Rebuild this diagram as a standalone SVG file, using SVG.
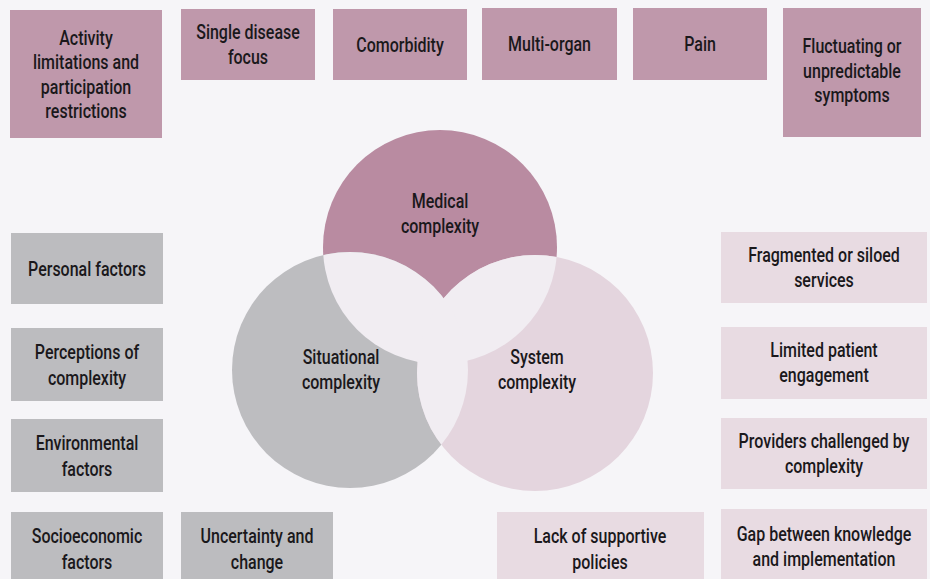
<svg xmlns="http://www.w3.org/2000/svg" width="930" height="579" viewBox="0 0 930 579">
<style>
.t{font-family:Roboto,"Liberation Sans",sans-serif;font-size:20.5px;font-weight:500;fill:#1a181b;text-anchor:middle}
.mauve{fill:#bf98ab}
.gray{fill:#bcbcbf}
.pink{fill:#e8dbe2}
.ov{fill:#f1edf2}
</style>
<defs>
<circle id="cM" cx="440" cy="247" r="117"/>
<circle id="cS" cx="350" cy="370" r="118"/>
<circle id="cY" cx="535" cy="373" r="118"/>
<clipPath id="clipM"><use href="#cM"/></clipPath>
<clipPath id="clipS"><use href="#cS"/></clipPath>
</defs>
<rect width="930" height="579" fill="#f6f5f8"/>

<g id="venn">
<use href="#cM" fill="#b98ba1"/>
<use href="#cS" fill="#bdbdc0"/>
<use href="#cY" fill="#e4d5de"/>
<g clip-path="url(#clipM)">
<use href="#cS" class="ov"/>
<use href="#cY" class="ov"/>
</g>
<g clip-path="url(#clipS)">
<use href="#cY" class="ov"/>
</g>
</g>
<g id="medical"><g transform="translate(440 0) scale(0.78 1)"><text class="t" x="0" y="208">Medical</text><text class="t" x="0" y="233">complexity</text></g></g>
<g id="situational"><g transform="translate(341 0) scale(0.78 1)"><text class="t" x="0" y="364">Situational</text><text class="t" x="0" y="389">complexity</text></g></g>
<g id="system"><g transform="translate(537 0) scale(0.78 1)"><text class="t" x="0" y="364">System</text><text class="t" x="0" y="389">complexity</text></g></g>

<g id="activity"><rect class="mauve" x="10" y="10" width="152" height="128"/>
<g transform="translate(86 0) scale(0.78 1)"><text class="t" x="0" y="45">Activity</text><text class="t" x="0" y="69.5">limitations and</text><text class="t" x="0" y="94">participation</text><text class="t" x="0" y="118.5">restrictions</text></g></g>
<g id="single"><rect class="mauve" x="181" y="9" width="134" height="71"/>
<g transform="translate(248 0) scale(0.78 1)"><text class="t" x="0" y="39">Single disease</text><text class="t" x="0" y="64">focus</text></g></g>
<g id="comorbidity"><rect class="mauve" x="333" y="9" width="134" height="71"/>
<g transform="translate(400 0) scale(0.78 1)"><text class="t" x="0" y="52">Comorbidity</text></g></g>
<g id="multiorgan"><rect class="mauve" x="482" y="8" width="135" height="72"/>
<g transform="translate(549.5 0) scale(0.78 1)"><text class="t" x="0" y="51">Multi-organ</text></g></g>
<g id="pain"><rect class="mauve" x="633" y="8" width="134" height="72"/>
<g transform="translate(700 0) scale(0.78 1)"><text class="t" x="0" y="51">Pain</text></g></g>
<g id="fluctuating"><rect class="mauve" x="783" y="8" width="138" height="129"/>
<g transform="translate(852 0) scale(0.78 1)"><text class="t" x="0" y="53">Fluctuating or</text><text class="t" x="0" y="78">unpredictable</text><text class="t" x="0" y="102">symptoms</text></g></g>

<g id="personal"><rect class="gray" x="11" y="233" width="152" height="71"/>
<g transform="translate(87 0) scale(0.78 1)"><text class="t" x="0" y="276">Personal factors</text></g></g>
<g id="perceptions"><rect class="gray" x="11" y="328" width="152" height="73"/>
<g transform="translate(87 0) scale(0.78 1)"><text class="t" x="0" y="359">Perceptions of</text><text class="t" x="0" y="385">complexity</text></g></g>
<g id="environmental"><rect class="gray" x="11" y="419" width="152" height="73"/>
<g transform="translate(87 0) scale(0.78 1)"><text class="t" x="0" y="450">Environmental</text><text class="t" x="0" y="476">factors</text></g></g>
<g id="socioeconomic"><rect class="gray" x="11" y="512" width="152" height="67"/>
<g transform="translate(87 0) scale(0.78 1)"><text class="t" x="0" y="543">Socioeconomic</text><text class="t" x="0" y="569">factors</text></g></g>
<g id="uncertainty"><rect class="gray" x="181" y="512" width="152" height="67"/>
<g transform="translate(257 0) scale(0.78 1)"><text class="t" x="0" y="543">Uncertainty and</text><text class="t" x="0" y="569">change</text></g></g>

<g id="fragmented"><rect class="pink" x="721" y="232" width="206" height="71"/>
<g transform="translate(824 0) scale(0.78 1)"><text class="t" x="0" y="262">Fragmented or siloed</text><text class="t" x="0" y="287">services</text></g></g>
<g id="limited"><rect class="pink" x="721" y="327" width="206" height="72"/>
<g transform="translate(824 0) scale(0.78 1)"><text class="t" x="0" y="357">Limited patient</text><text class="t" x="0" y="382">engagement</text></g></g>
<g id="providers"><rect class="pink" x="721" y="418" width="206" height="71"/>
<g transform="translate(824 0) scale(0.78 1)"><text class="t" x="0" y="448">Providers challenged by</text><text class="t" x="0" y="473">complexity</text></g></g>
<g id="gap"><rect class="pink" x="721" y="509" width="206" height="70"/>
<g transform="translate(824 0) scale(0.78 1)"><text class="t" x="0" y="541">Gap between knowledge</text><text class="t" x="0" y="566">and implementation</text></g></g>
<g id="lack"><rect class="pink" x="497" y="512" width="207" height="67"/>
<g transform="translate(600 0) scale(0.78 1)"><text class="t" x="0" y="543">Lack of supportive</text><text class="t" x="0" y="569">policies</text></g></g>
</svg>
